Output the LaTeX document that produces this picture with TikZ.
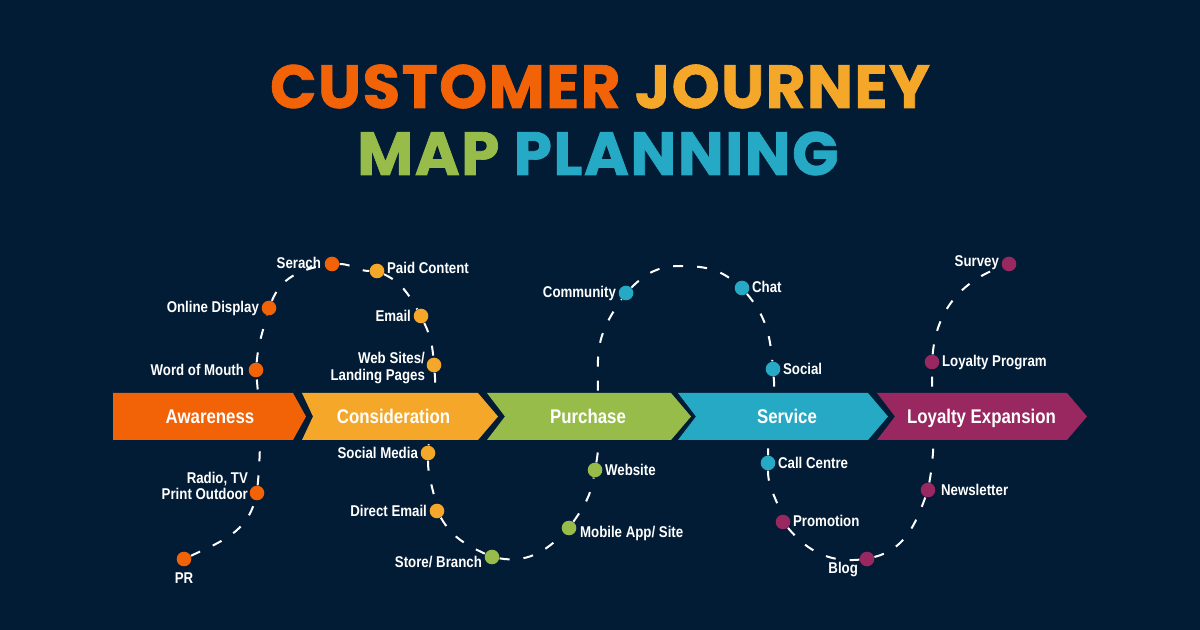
\documentclass[tikz,border=0pt]{standalone}
\usepackage{xcolor}
\usepackage{fontspec}
\usepackage{tikz}
\usetikzlibrary{positioning}
\setmainfont{Liberation Sans}
\newfontfamily\tagfont[FakeStretch=0.85]{Liberation Sans}
\newfontfamily\titlefont[LetterSpace=2.5,FakeBold=1.2]{Poppins}
\definecolor{navybg}{HTML}{031C36}
\definecolor{cOrange}{HTML}{F26207}
\definecolor{cYellow}{HTML}{F5A729}
\definecolor{cGreen}{HTML}{98BC4A}
\definecolor{cTeal}{HTML}{25A9C4}
\definecolor{cPlum}{HTML}{98285F}
\tikzset{
    dot/.style={circle, fill=#1, minimum size=7.3pt, inner sep=0pt},
    tag/.style={text=white, font=\tagfont\bfseries\fontsize{7.8}{8.2}\selectfont, inner sep=0pt, align=right},
    stagetext/.style={text=white, font=\tagfont\bfseries\fontsize{9.9}{11}\selectfont, inner sep=0pt, anchor=base},
    trail/.style={white, line width=1pt, dash pattern=on 5pt off 7pt},
    titleline/.style={font=\titlefont\bfseries\fontsize{30.5}{36}\selectfont, inner sep=0pt, anchor=base}
}
\begin{document}
\begin{tikzpicture}[x=0.5pt, y=-0.5pt]
    \fill[navybg] (0,0) rectangle (1200,630);
    \useasboundingbox (0,0) rectangle (1200,630);
    % title
    \node[titleline] (title1) at (600,108) {\textcolor{cOrange}{CUSTOMER} \textcolor{cYellow}{JOURNEY}};
    \node[titleline] (title2) at (598,175) {\textcolor{cGreen}{MAP} \textcolor{cTeal}{PLANNING}};
    % stops on the way
    \node[dot=cOrange] (pr) at (184,559) {}; \node[dot=cOrange] (radio) at (257,493) {};
    \node[dot=cOrange] (mouth) at (256,370) {}; \node[dot=cOrange] (display) at (269,308) {};
    \node[dot=cOrange] (search) at (332,264) {}; \node[dot=cYellow] (paid) at (377,271) {};
    \node[dot=cYellow] (email) at (421,316) {}; \node[dot=cYellow] (web) at (434,365) {};
    \node[dot=cYellow] (media) at (428,453) {}; \node[dot=cYellow] (direct) at (437,511) {};
    \node[dot=cGreen] (store) at (492,557) {}; \node[dot=cGreen] (mobile) at (569,528) {};
    \node[dot=cGreen] (website) at (595,470) {}; \node[dot=cTeal] (community) at (626,293) {};
    \node[dot=cTeal] (chat) at (742,288) {}; \node[dot=cTeal] (social) at (773,369) {};
    \node[dot=cTeal] (call) at (768,463) {}; \node[dot=cPlum] (promo) at (783,522) {};
    \node[dot=cPlum] (blog) at (867,559) {}; \node[dot=cPlum] (news) at (928,490) {};
    \node[dot=cPlum] (program) at (932,362) {}; \node[dot=cPlum] (survey) at (1009,264) {};
    \coordinate (midway) at (598,400); \coordinate (crest) at (680,266);
    % dashed way, goes under the arrows
    \draw[trail] (pr) to[out=25,in=-105] (radio);
    \draw[trail] (radio) to[out=85,in=-85] (mouth);
    \draw[trail] (mouth) to[out=85,in=-105] (display);
    \draw[trail] (display) to[out=68,in=190] (search);
    \draw[trail] (search) to[out=0,in=180] (paid);
    \draw[trail] (paid) to[out=-25,in=120] (email);
    \draw[trail] (email) to[out=-65,in=95] (web);
    \draw[trail] (web) to[out=-85,in=85,looseness=0.9] (media);
    \draw[trail] (media) to[out=-90,in=100] (direct);
    \draw[trail] (direct) to[out=-60,in=155] (store);
    \draw[trail] (store) to[out=-10,in=225] (mobile);
    \draw[trail] (mobile) to[out=55,in=-100] (website);
    \draw[trail] (website) to[out=80,in=-90] (midway) to[out=90,in=-125,looseness=1.2] (community);
    \draw[trail] (community) to[out=45,in=180] (crest) to[out=0,in=140] (chat);
    \draw[trail] (chat) to[out=-50,in=95] (social);
    \draw[trail] (social) to[out=-85,in=90] (call);
    \draw[trail] (call) to[out=-90,in=105] (promo);
    \draw[trail] (promo) to[out=-50,in=185] (blog);
    \draw[trail] (blog) to[out=15,in=-110] (news);
    \draw[trail] (news) to[out=80,in=-90] (program);
    \draw[trail] (program) to[out=85,in=200] (survey);
    % arrows
    \fill[cPlum] (877,393) -- (1067,393) -- (1087,416.5) -- (1067,440) -- (877,440) -- (895,416.5) -- cycle;
    \fill[cTeal] (678,393) -- (868,393) -- (888,416.5) -- (868,440) -- (678,440) -- (696,416.5) -- cycle;
    \fill[cGreen] (487,393) -- (671,393) -- (691,416.5) -- (671,440) -- (487,440) -- (505,416.5) -- cycle;
    \fill[cYellow] (302,393) -- (478,393) -- (498,416.5) -- (478,440) -- (302,440) -- (313,416.5) -- cycle;
    \fill[cOrange] (113,393) -- (293,393) -- (306,416.5) -- (293,440) -- (113,440) -- cycle;
    \node[stagetext] (awareness) at (210,424) {Awareness};
    \node[stagetext] (consideration) at (393.5,424) {Consideration};
    \node[stagetext] (purchase) at (588,424) {Purchase};
    \node[stagetext] (service) at (787,424) {Service};
    \node[stagetext] (loyalty) at (981.5,424) {Loyalty Expansion};
    % stop labels
    \node[tag, below=3pt of pr] (prtext) {PR};
    \node[tag, left=0.5pt of radio, yshift=3.5pt] (radiotext) {Radio, TV\\Print Outdoor};
    \node[tag, left=2pt of mouth] (mouthtext) {Word of Mouth};
    \node[tag, left=1pt of display] (displaytext) {Online Display};
    \node[tag, left=1.5pt of search, yshift=0.5pt] (searchtext) {Serach};
    \node[tag, right=1pt of paid, yshift=1.5pt] (paidtext) {Paid Content};
    \node[tag, left=1pt of email] (emailtext) {Email};
    \node[tag, left=0.5pt of web, yshift=-1.5pt] (webtext) {Web Sites/\\Landing Pages};
    \node[tag, left=1pt of media] (mediatext) {Social Media};
    \node[tag, left=1pt of direct] (directtext) {Direct Email};
    \node[tag, left=1pt of store, yshift=-2.5pt] (storetext) {Store/ Branch};
    \node[tag, right=1.5pt of mobile, yshift=-2.5pt] (mobiletext) {Mobile App/ Site};
    \node[tag, right=1pt of website] (websitetext) {Website};
    \node[tag, left=1pt of community] (communitytext) {Community};
    \node[tag, right=1pt of chat, yshift=0.5pt] (chattext) {Chat};
    \node[tag, right=1pt of social] (socialtext) {Social};
    \node[tag, right=1pt of call] (calltext) {Call Centre};
    \node[tag, right=1pt of promo, yshift=0.5pt] (promotext) {Promotion};
    \node[tag, left=0.5pt of blog, yshift=-5.5pt] (blogtext) {Blog};
    \node[tag, right=2.5pt of news] (newstext) {Newsletter};
    \node[tag, right=1pt of program, yshift=-0.5pt] (programtext) {Loyalty Program};
    \node[tag, left=1pt of survey, yshift=0.5pt] (surveytext) {Survey};
\end{tikzpicture}
\end{document}
